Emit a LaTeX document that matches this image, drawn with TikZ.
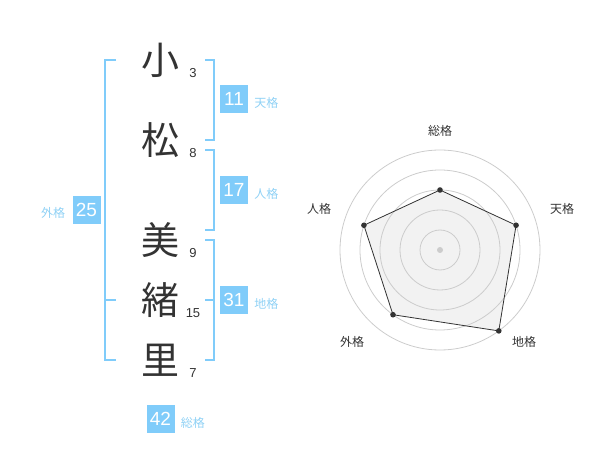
\documentclass[tikz,border=0pt]{standalone}
\usepackage{fontspec}
\setmainfont{Liberation Sans}
\newfontfamily\jpfont{Noto Sans CJK JP}
\usetikzlibrary{positioning}
\definecolor{skyblue}{HTML}{80CCFA}
\definecolor{labelblue}{HTML}{8FD1F5}
\definecolor{inkgray}{HTML}{333333}
\definecolor{ringgray}{HTML}{CCCCCC}
\definecolor{fillgray}{HTML}{F2F2F2}
\tikzset{
  kanji/.style={font=\jpfont\fontsize{38}{38}\selectfont, text=inkgray, inner sep=0pt},
  strokes/.style={font=\fontsize{13}{13}\selectfont, text=inkgray, inner sep=0pt},
  numbox/.style={fill=skyblue, text=white, minimum width=28pt, minimum height=28pt, inner sep=0pt, font=\fontsize{19}{19}\selectfont},
  kaku/.style={font=\jpfont\fontsize{12}{12}\selectfont, text=labelblue, inner sep=0pt},
  bracket/.style={draw=skyblue, line width=2pt},
  axislabel/.style={font=\jpfont\fontsize{12}{12}\selectfont, text=inkgray, inner sep=0pt}
}
\begin{document}
\begin{tikzpicture}[x=1pt, y=-1pt]
\useasboundingbox (0,0) rectangle (600,470);
\path
(160,60) node[kanji] (sho) {小};
\path
(160,140) node[kanji] (matsu) {松};
\path
(160,240) node[kanji] (mi) {美};
\path
(160,300) node[kanji] (o) {緒};
\path
(160,360) node[kanji] (ri) {里};
\foreach \k/\s/\y in {sho/3/73, matsu/8/153, mi/9/253, o/15/313, ri/7/373} \path (193,\y) node[strokes] (s\k) {\s};
\draw[bracket] (116,60)--(105,60)--(105,360)--(116,360);
\draw[bracket] (105,300)--(116,300);
\draw[bracket] (205,60)--(214,60)--(214,140)--(205,140);
\draw[bracket] (205,150)--(214,150)--(214,230)--(205,230);
\draw[bracket] (205,240)--(214,240)--(214,360)--(205,360);
\draw[bracket] (214,300)--(205,300);
\path
(234,99) node[numbox] (ten) {11};
\node[kaku, right=6pt of ten, yshift=-4pt] (tenl) {天格};
\path
(234,190) node[numbox] (jin) {17};
\node[kaku, right=6pt of jin, yshift=-4pt] (jinl) {人格};
\path
(234,300) node[numbox] (chi) {31};
\node[kaku, right=6pt of chi, yshift=-4pt] (chil) {地格};
\path
(86.5,210) node[numbox] (gai) {25};
\node[kaku, left=7pt of gai, yshift=-3pt] (gail) {外格};
\path
(160.5,419) node[numbox] (sou) {42};
\node[kaku, right=6pt of sou, yshift=-4pt] (soul) {総格};
\coordinate (hub) at (440,250);
\foreach \a/\v/\n in {90/60/sou, 18/80/ten, -54/100/chi, -126/80/gai, 162/80/jin} \coordinate (p\n) at ([shift={(\a:\v pt)}]hub);
\fill[fillgray] (psou)--(pten)--(pchi)--(pgai)--(pjin)--cycle;
\foreach \r in {20,40,...,100} \draw[ringgray, line width=0.8pt] (hub) circle[radius=\r pt];
\fill[ringgray] (hub) circle[radius=3pt];
\draw[inkgray, line width=0.8pt] (psou)--(pten)--(pchi)--(pgai)--(pjin)--cycle;
\foreach \n in {sou, ten, chi, gai, jin} \fill[inkgray] (p\n) circle[radius=2.8pt];
\path
(440,131) node[axislabel] (asou) {総格};
\path
(562,209) node[axislabel] (aten) {天格};
\path
(524,342) node[axislabel] (achi) {地格};
\path
(352,342) node[axislabel] (agai) {外格};
\path
(319,209) node[axislabel] (ajin) {人格};
\end{tikzpicture}
\end{document}
